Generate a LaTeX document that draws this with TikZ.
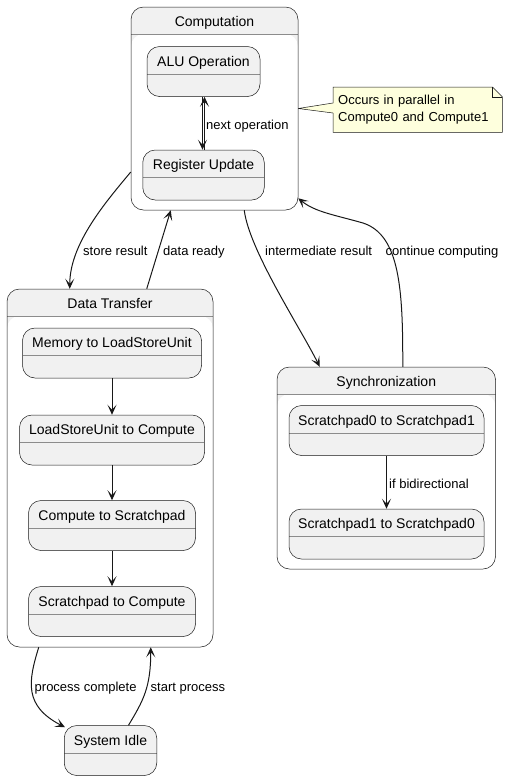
\documentclass[tikz,border=0pt]{standalone}
\usepackage{fontspec}
\setmainfont{Liberation Sans}
\usetikzlibrary{arrows.meta,backgrounds}
\definecolor{stategray}{HTML}{F1F1F1}
\definecolor{linedark}{HTML}{181818}
\definecolor{dividergray}{HTML}{8C8C8C}
\definecolor{noteyellow}{HTML}{FEFFDD}
\tikzset{
  statebox/.style={draw=linedark, line width=0.5pt, fill=stategray, rounded corners=12.5pt,
    inner sep=0pt, minimum height=50pt,
    path picture={\draw[dividergray, line width=0.6pt]
      ([yshift=-27.5pt]path picture bounding box.north west) --
      ([yshift=-27.5pt]path picture bounding box.north east);}},
  compbox/.style={draw=linedark, line width=0.5pt, fill=stategray, rounded corners=12.5pt,
    inner sep=0pt,
    path picture={\fill[white] ([yshift=-27pt]path picture bounding box.north west)
      rectangle (path picture bounding box.south east);
      \draw[dividergray, line width=0.6pt]
      ([yshift=-27pt]path picture bounding box.north west) --
      ([yshift=-27pt]path picture bounding box.north east);}},
  statetitle/.style={anchor=base, inner sep=0pt, font=\fontsize{14}{16}\selectfont},
  translabel/.style={anchor=base west, inner sep=0pt, font=\fontsize{13}{16}\selectfont},
  trans/.style={draw=linedark, line width=1pt, -{Stealth[length=10pt,width=9pt,inset=5pt]}},
  notebox/.style={anchor=north west, text width=159pt, inner xsep=5pt, inner ysep=0pt,
    minimum height=45pt, align=left, font=\fontsize{13}{16.5}\selectfont},
  noteline/.style={draw=linedark, line width=0.5pt, fill=noteyellow},
}
\begin{document}
\begin{tikzpicture}[x=1pt, y=-1pt]
  \useasboundingbox (0,0) rectangle (508,780);

  \node (comp) [compbox, minimum width=167pt, minimum height=203pt] at (214.5,108.5) {};
  \node (compt) [statetitle] at ([yshift=-20pt]comp.north) {Computation};
  \node (alu) [statebox, minimum width=113pt] at (203.5,71.5) {};
  \node (alut) [statetitle] at ([yshift=-20pt]alu.north) {ALU Operation};
  \node (reg) [statebox, minimum width=121.5pt] at (203.5,175) {};
  \node (regt) [statetitle] at ([yshift=-20pt]reg.north) {Register Update};

  \node (dt) [compbox, minimum width=206pt, minimum height=358pt] at (110,468) {};
  \node (dtt) [statetitle] at ([yshift=-20pt]dt.north) {Data Transfer};
  \node (mem) [statebox, minimum width=179pt] at (112,353) {};
  \node (memt) [statetitle] at ([yshift=-20pt]mem.north) {Memory to LoadStoreUnit};
  \node (lsu) [statebox, minimum width=185pt] at (112,440) {};
  \node (lsut) [statetitle] at ([yshift=-20pt]lsu.north) {LoadStoreUnit to Compute};
  \node (c2s) [statebox, minimum width=167pt] at (112,525.5) {};
  \node (c2st) [statetitle] at ([yshift=-20pt]c2s.north) {Compute to Scratchpad};
  \node (s2c) [statebox, minimum width=167pt] at (112,611.5) {};
  \node (s2ct) [statetitle] at ([yshift=-20pt]s2c.north) {Scratchpad to Compute};

  \node (sync) [compbox, minimum width=218.5pt, minimum height=202pt] at (386.25,468) {};
  \node (synct) [statetitle] at ([yshift=-20pt]sync.north) {Synchronization};
  \node (sp0) [statebox, minimum width=195pt] at (386.5,430.5) {};
  \node (sp0t) [statetitle] at ([yshift=-20pt]sp0.north) {Scratchpad0 to Scratchpad1};
  \node (sp1) [statebox, minimum width=195pt] at (386.5,534) {};
  \node (sp1t) [statetitle] at ([yshift=-20pt]sp1.north) {Scratchpad1 to Scratchpad0};

  \node (idle) [statebox, minimum width=92.5pt] at (110.5,750.5) {};
  \node (idlet) [statetitle] at ([yshift=-20pt]idle.north) {System Idle};

  \node (note) [notebox] at (333,87) {Occurs in parallel in\\Compute0 and Compute1};
  \begin{scope}[on background layer]
    \draw[noteline] (note.north west) -- ([xshift=-10pt]note.north east)
      -- ([yshift=-10pt]note.north east) -- (note.south east) -- (note.south west)
      -- ([yshift=-26pt]note.north west) -- (comp.east) -- ([yshift=-16pt]note.north west) -- cycle;
    \draw[linedark, line width=0.5pt] ([xshift=-10pt]note.north east) |- ([yshift=-10pt]note.north east);
  \end{scope}

  \draw[trans] ([xshift=-1pt]alu.south) -- ([xshift=-1pt]reg.north);
  \draw[trans] ([xshift=1pt]reg.north) -- ([xshift=1pt]alu.south);
  \node (lnext) [translabel] at (206,129.5) {next operation};

  \draw[trans] (mem.south) -- (lsu.north);
  \draw[trans] (lsu.south) -- (c2s.north);
  \draw[trans] (c2s.south) -- (s2c.north);

  \draw[trans] (sp0.south) -- (sp1.north);
  \node (lbidir) [translabel] at (389,488.5) {if bidirectional};

  \draw[trans] ([yshift=-63.5pt]comp.west) .. controls +(-25,30) and +(0,-45) .. ([xshift=63pt]dt.north west);
  \node (lstore) [translabel] at (83,255.5) {store result};
  \draw[trans] ([xshift=140pt]dt.north west) -- ([xshift=40pt]comp.south west);
  \node (lready) [translabel] at (163,255.5) {data ready};
  \draw[trans] ([xshift=113.5pt]comp.south west) .. controls +(5,40) and +(-20,-40) .. ([xshift=43pt]sync.north west);
  \node (linter) [translabel] at (265,255.5) {intermediate result};
  \draw[trans] ([xshift=126pt]sync.north west) .. controls (403,290) and (400,235) .. (363,223)
    .. controls (335,215) and (315,212) .. ([yshift=12pt]comp.south east);
  \node (lcont) [translabel] at (385.5,255.5) {continue computing};

  \draw[trans] ([xshift=32pt]dt.south west) .. controls (28,682) and (24,706) .. ([xshift=1pt,yshift=-2pt]idle.north west);
  \node (ldone) [translabel] at (34.5,691.5) {process complete};
  \draw[trans] ([xshift=64.5pt]idle.north west) .. controls +(15,-25) and +(0,40) .. ([xshift=144pt]dt.south west);
  \node (lstart) [translabel] at (150.5,691.5) {start process};
\end{tikzpicture}
\end{document}
